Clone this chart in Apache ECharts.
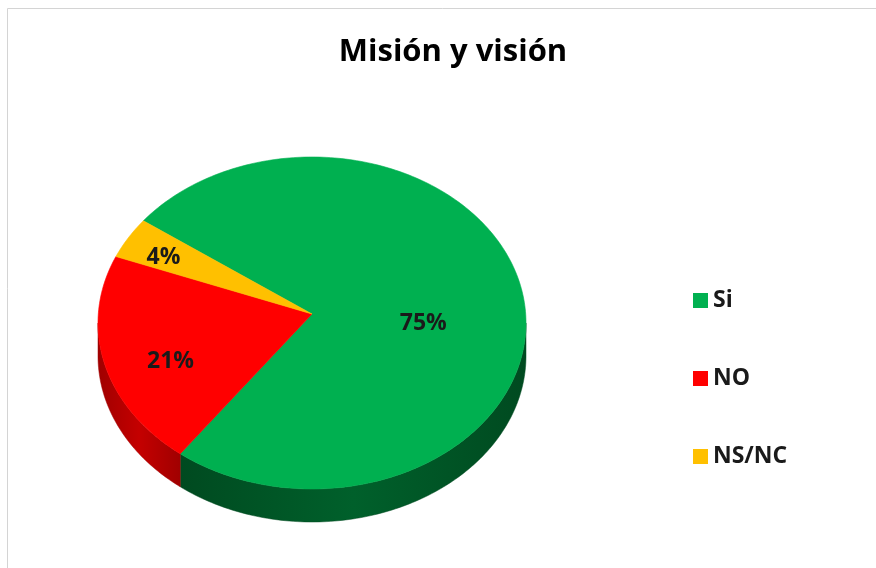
<!DOCTYPE html>
<html>
<head>
<meta charset="utf-8">
<script src="https://cdn.jsdelivr.net/npm/echarts@6/dist/echarts.min.js"></script>
<style>
  html, body { margin: 0; padding: 0; background: #fff; }
  #chart { width: 876px; height: 568px; }
</style>
</head>
<body>
<div id="chart"></div>
<script>
// Survey answers
const categories = ['Si', 'NO', 'NS/NC'];
const values = [75, 21, 4];
const colors = ['#00B050', '#FF0000', '#FFC000'];
const sideColors = [['#004a20', '#00602b'], ['#a00000', '#c40000'], ['#b88a00', '#d9a300']];

// Tilted pie geometry (screen pixels)
const geo = { cx: 312, cy: 323, rx: 214, ry: 166, depth: 33, apexLift: 9, startDeg: 218 };
// Label placement inside each slice: [fraction of radius, angle shift in degrees]
const labelPlace = [[0.52, 7], [0.70, -5], [0.80, -1]];

const total = values.reduce((a, b) => a + b, 0);
const before = values.map((_, i) => values.slice(0, i).reduce((a, b) => a + b, 0));

function pt(deg, dy) {
  const r = deg * Math.PI / 180;
  return [geo.cx + geo.rx * Math.cos(r), geo.cy + geo.ry * Math.sin(r) + (dy || 0)];
}

function arc(a, b, dy) {
  const pts = [];
  const n = Math.max(2, Math.ceil(Math.abs(b - a)));
  for (let k = 0; k <= n; k++) pts.push(pt(a + (b - a) * k / n, dy));
  return pts;
}

function renderSlice(params, api) {
  const i = params.seriesIndex;
  const v = api.value(0), b = api.value(1);
  const t0 = geo.startDeg + b / total * 360;
  const t1 = t0 + v / total * 360;
  const apex = [geo.cx, geo.cy - geo.apexLift];
  const children = [];

  // front wall: the part of the rim facing the viewer (0..180 deg, repeated per turn)
  for (let base = 0; base <= 720; base += 360) {
    const a = Math.max(t0, base), c = Math.min(t1, base + 180);
    if (c > a) {
      const top = arc(a, c, 0);
      const bottom = arc(c, a, geo.depth);
      const sc = sideColors[i];
      children.push({
        type: 'polygon',
        z2: 1,
        shape: { points: top.concat(bottom) },
        style: {
          fill: new echarts.graphic.LinearGradient(0, 0, 1, 0, [
            { offset: 0, color: sc[0] },
            { offset: 0.5, color: sc[1] },
            { offset: 1, color: sc[0] }
          ], false),
          stroke: sc[0], lineWidth: 0.5
        }
      });
    }
  }

  // top face
  children.push({
    type: 'polygon',
    z2: 10,
    shape: { points: [apex].concat(arc(t0, t1, 0)) },
    style: { fill: colors[i], stroke: colors[i], lineWidth: 0.6 }
  });

  // percentage label
  const lp = labelPlace[i];
  const mid = (t0 + t1) / 2 + lp[1];
  const mr = mid * Math.PI / 180;
  children.push({
    type: 'text',
    z2: 20,
    x: geo.cx + lp[0] * geo.rx * Math.cos(mr),
    y: geo.cy + lp[0] * geo.ry * Math.sin(mr),
    style: {
      text: Math.round(v / total * 100) + '%',
      fill: '#1a1a1a',
      font: 'bold 23px "Open Sans", sans-serif',
      align: 'center',
      verticalAlign: 'middle'
    }
  });

  return { type: 'group', children };
}

const chart = echarts.init(document.getElementById('chart'), null, { renderer: 'canvas' });

chart.setOption({
  animation: false,
  backgroundColor: '#ffffff',
  title: {
    text: 'Misión y visión',
    left: 448,
    textAlign: 'center',
    top: 32,
    textStyle: { fontFamily: '"Open Sans", sans-serif', fontWeight: 'bold', fontSize: 31, color: '#000' }
  },
  legend: {
    orient: 'vertical',
    left: 688,
    top: 284,
    itemWidth: 15,
    itemHeight: 15,
    itemGap: 55,
    icon: 'rect',
    data: categories,
    textStyle: { fontFamily: '"Open Sans", sans-serif', fontWeight: 'bold', fontSize: 23, color: '#1a1a1a', lineHeight: 22 },
    selectedMode: false
  },
  graphic: [{
    type: 'rect',
    silent: true,
    shape: { x: 7.5, y: 8.5, width: 900, height: 600 },
    style: { fill: 'none', stroke: '#d4d4d4', lineWidth: 1 }
  }],
  series: categories.map((name, i) => ({
    type: 'custom',
    name: name,
    coordinateSystem: 'none',
    itemStyle: { color: colors[i] },
    renderItem: renderSlice,
    data: [[values[i], before[i]]]
  }))
});
</script>
</body>
</html>
